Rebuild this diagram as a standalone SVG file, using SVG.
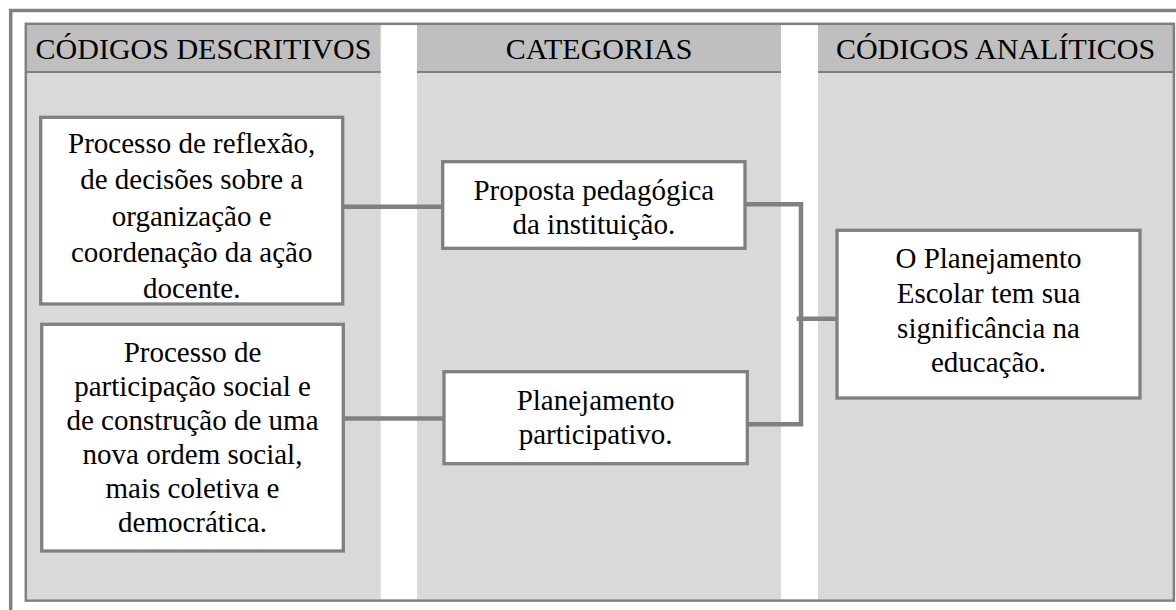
<svg xmlns="http://www.w3.org/2000/svg" width="1176" height="610" viewBox="0 0 1176 610">
<style>
  .hdr { fill: #bfbfbf; }
  .body { fill: #d9d9d9; }
  .hline { stroke: #808080; stroke-width: 2; }
  .frame { fill: none; stroke: #808080; stroke-width: 2.5; }
  .outer { fill: none; stroke: #808080; stroke-width: 3.5; }
  .box { fill: #ffffff; stroke: #808080; stroke-width: 3.3; }
  .conn { fill: none; stroke: #808080; stroke-width: 4.5; }
  .ht { font-size: 30px; }
  .nt { font-size: 29px; }
</style>
<rect width="1176" height="610" fill="#ffffff"/>
<g id="outer-frame">
  <path class="outer" d="M10.7 610 V10.5 H1176"/>
</g>
<g id="columns" font-family="'Liberation Serif', 'DejaVu Serif', serif" fill="#000000" text-anchor="middle">
  <rect class="body" x="27" y="73" width="353.7" height="526.5"/>
  <rect class="hdr" x="27" y="25" width="353.7" height="46"/>
  <line class="hline" x1="27" y1="72" x2="380.7" y2="72"/>
  <rect class="body" x="417" y="73" width="364" height="526.5"/>
  <rect class="hdr" x="417" y="25" width="364" height="46"/>
  <line class="hline" x1="417" y1="72" x2="781" y2="72"/>
  <rect class="body" x="818" y="73" width="355" height="526.5"/>
  <rect class="hdr" x="818" y="25" width="355" height="46"/>
  <line class="hline" x1="818" y1="72" x2="1173" y2="72"/>
  <rect class="frame" x="25.8" y="23.8" width="1148.1" height="576.8"/>
  <text class="ht" x="203.5" y="59">CÓDIGOS DESCRITIVOS</text>
  <text class="ht" x="599" y="59">CATEGORIAS</text>
  <text class="ht" x="995.5" y="59">CÓDIGOS ANALÍTICOS</text>
</g>
<g id="connectors">
  <line class="conn" x1="342.7" y1="206.8" x2="442.7" y2="206.8"/>
  <line class="conn" x1="343.3" y1="418.6" x2="444" y2="418.6"/>
  <path class="conn" d="M745 204.2 H801 V424.2 H747.3"/>
  <line class="conn" x1="796.7" y1="318.8" x2="837" y2="318.8"/>
</g>
<g id="node-reflexao" font-family="'Liberation Serif', 'DejaVu Serif', serif" fill="#000000" text-anchor="middle">
  <rect class="box" x="40.7" y="117.3" width="302" height="186.7"/>
  <text class="nt" x="191.7" y="152.7">Processo de reflexão,</text>
  <text class="nt" x="191.7" y="189.1">de decisões sobre a</text>
  <text class="nt" x="191.7" y="225.5">organização e</text>
  <text class="nt" x="191.7" y="261.9">coordenação da ação</text>
  <text class="nt" x="191.7" y="298.3">docente.</text>
</g>
<g id="node-participacao" font-family="'Liberation Serif', 'DejaVu Serif', serif" fill="#000000" text-anchor="middle">
  <rect class="box" x="41.7" y="324.3" width="301.6" height="226.7"/>
  <text class="nt" x="192.5" y="361.7">Processo de</text>
  <text class="nt" x="192.5" y="395.7">participação social e</text>
  <text class="nt" x="192.5" y="429.7">de construção de uma</text>
  <text class="nt" x="192.5" y="463.7">nova ordem social,</text>
  <text class="nt" x="192.5" y="497.7">mais coletiva e</text>
  <text class="nt" x="192.5" y="531.7">democrática.</text>
</g>
<g id="node-proposta" font-family="'Liberation Serif', 'DejaVu Serif', serif" fill="#000000" text-anchor="middle">
  <rect class="box" x="442.7" y="161.7" width="302.3" height="86.6"/>
  <text class="nt" x="593.8" y="200">Proposta pedagógica</text>
  <text class="nt" x="593.8" y="234">da instituição.</text>
</g>
<g id="node-planejamento" font-family="'Liberation Serif', 'DejaVu Serif', serif" fill="#000000" text-anchor="middle">
  <rect class="box" x="444" y="371.7" width="303.3" height="92"/>
  <text class="nt" x="595.6" y="410">Planejamento</text>
  <text class="nt" x="595.6" y="444">participativo.</text>
</g>
<g id="node-significancia" font-family="'Liberation Serif', 'DejaVu Serif', serif" fill="#000000" text-anchor="middle">
  <rect class="box" x="837" y="230.3" width="303" height="167.7"/>
  <text class="nt" x="988.5" y="268.3">O Planejamento</text>
  <text class="nt" x="988.5" y="303">Escolar tem sua</text>
  <text class="nt" x="988.5" y="337.7">significância na</text>
  <text class="nt" x="988.5" y="372.4">educação.</text>
</g>
</svg>
